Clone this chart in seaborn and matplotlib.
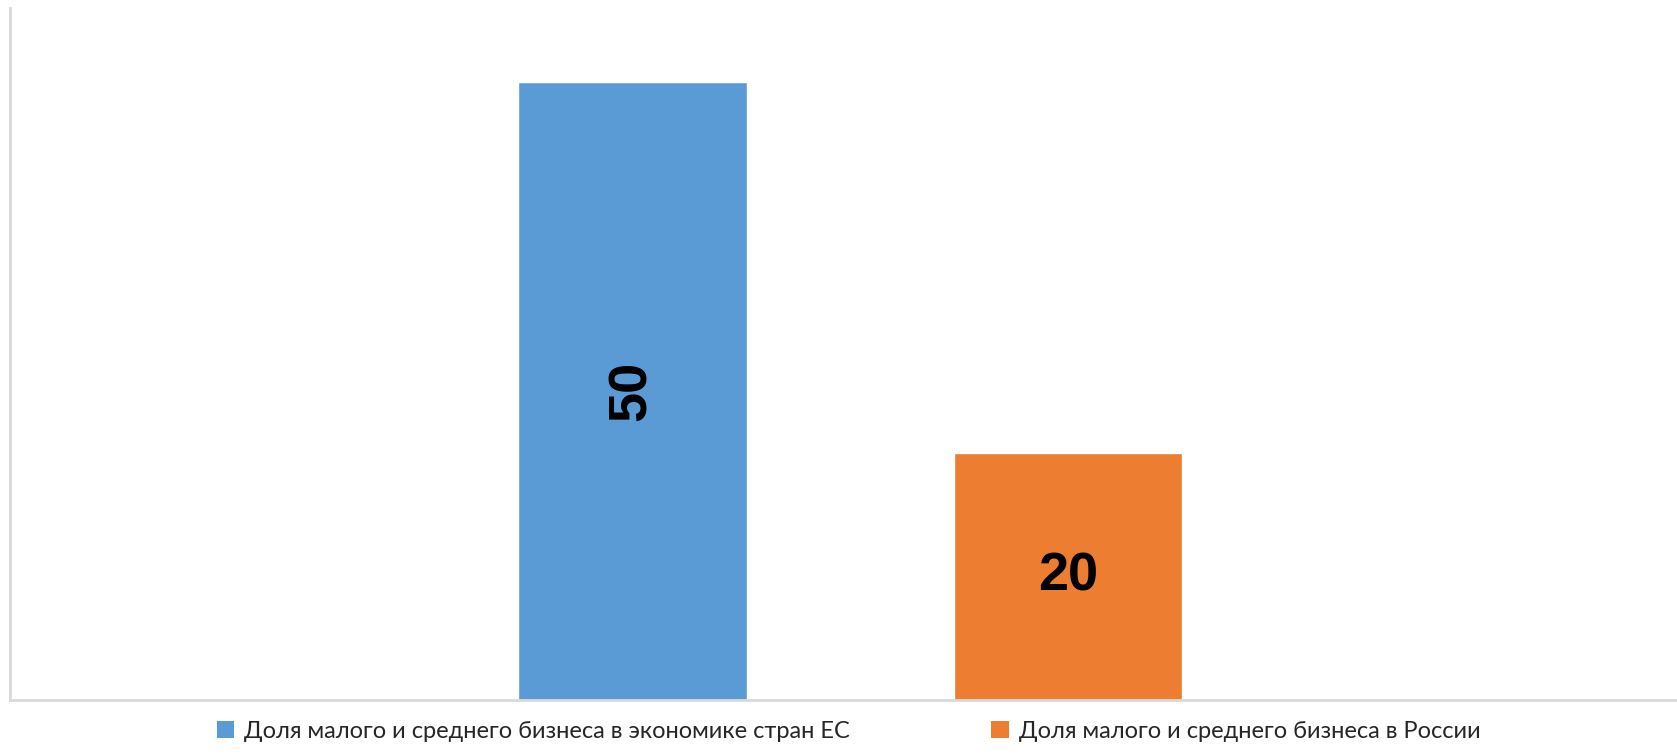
import matplotlib
matplotlib.use("Agg")
import matplotlib.pyplot as plt
import matplotlib.patches as mpatches
import seaborn as sns
import pandas as pd

series = ["Доля малого и среднего бизнеса в экономике стран ЕС",
          "Доля малого и среднего бизнеса в России"]
values = [50, 20]
colors = ["#5B9BD5", "#ED7D31"]

df = pd.DataFrame({"series": series, "value": values})

sns.set_theme(style="white")
plt.rcParams['font.family'] = ['Lato', 'DejaVu Sans']

fig = plt.figure(figsize=(16.77, 7.55), dpi=100)
ax = fig.add_axes([10/1677, 1 - 700/755, 1 - 10/1677, (700 - 8)/755])

sns.barplot(data=df, x="series", y="value", hue="series", palette=colors,
            width=0.525, legend=False, ax=ax, saturation=1)

ax.set_xlim(-1.427, 2.397)
ax.set_ylim(0, 56)
ax.set_xlabel("")
ax.set_ylabel("")
ax.set_xticks([])
ax.set_yticks([])
for s in ["top", "right"]:
    ax.spines[s].set_visible(False)
for s in ["left", "bottom"]:
    ax.spines[s].set_color("#d9d9d9")
    ax.spines[s].set_linewidth(2)

for i, cont in enumerate(ax.containers):
    ax.bar_label(cont, labels=[str(values[i])], label_type="center",
                 rotation=90 if i == 0 else 0, fontsize=39, fontweight="bold",
                 family="Liberation Sans", color="black")

handles = [mpatches.Patch(facecolor=c, edgecolor="none", label=s) for c, s in zip(colors, series)]
fig.legend(handles=handles, loc="center", bbox_to_anchor=(0.506, 1 - 731/755), ncol=2,
           frameon=False, fontsize=17, handlelength=0.75, handleheight=0.75,
           handletextpad=0.4, columnspacing=6.0)

fig.savefig("out.png", dpi=100)
